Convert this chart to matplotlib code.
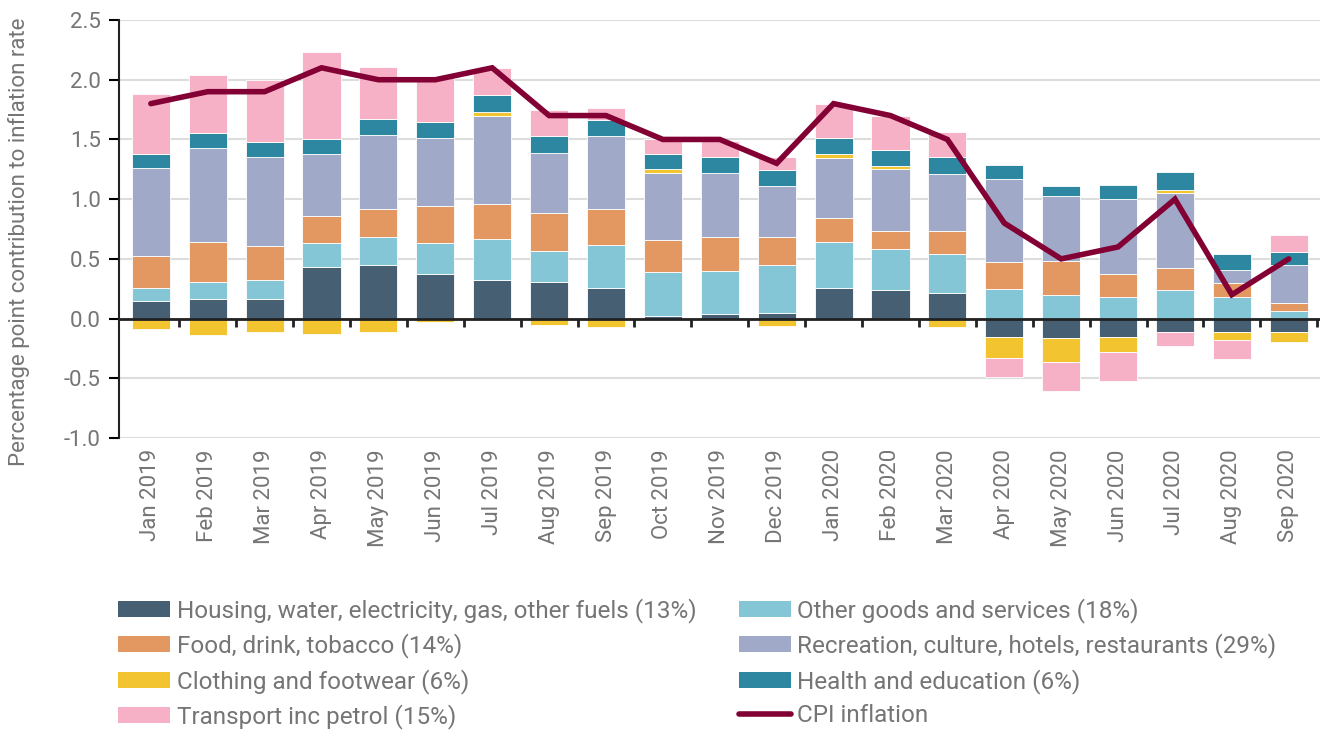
import matplotlib
matplotlib.use("Agg")
import matplotlib.pyplot as plt
import numpy as np
from matplotlib.lines import Line2D
from matplotlib.patches import Patch

plt.rcParams['font.family'] = ['Roboto', 'DejaVu Sans']

months = ["Jan 2019", "Feb 2019", "Mar 2019", "Apr 2019", "May 2019", "Jun 2019",
          "Jul 2019", "Aug 2019", "Sep 2019", "Oct 2019", "Nov 2019", "Dec 2019",
          "Jan 2020", "Feb 2020", "Mar 2020", "Apr 2020", "May 2020", "Jun 2020",
          "Jul 2020", "Aug 2020", "Sep 2020"]

# contributions (percentage points)
housing = [0.15, 0.16, 0.16, 0.43, 0.445, 0.375, 0.32, 0.31, 0.255, 0.02, 0.04, 0.05,
           0.255, 0.24, 0.215, -0.15, -0.16, -0.15, -0.11, -0.11, -0.11]
other_goods = [0.11, 0.15, 0.16, 0.20, 0.24, 0.26, 0.35, 0.26, 0.36, 0.37, 0.355, 0.40,
               0.39, 0.34, 0.33, 0.245, 0.20, 0.18, 0.24, 0.18, 0.06]
food = [0.26, 0.33, 0.29, 0.23, 0.23, 0.31, 0.29, 0.31, 0.30, 0.27, 0.29, 0.23,
        0.20, 0.15, 0.19, 0.23, 0.28, 0.19, 0.18, 0.12, 0.07]
recreation = [0.74, 0.79, 0.74, 0.52, 0.62, 0.57, 0.74, 0.51, 0.61, 0.56, 0.53, 0.43,
              0.50, 0.525, 0.475, 0.69, 0.55, 0.63, 0.635, 0.11, 0.32]
clothing = [-0.09, -0.14, -0.11, -0.13, -0.11, -0.03, 0.03, -0.05, -0.07, 0.03, 0.0, -0.06,
            0.03, 0.02, -0.07, -0.18, -0.20, -0.13, 0.02, -0.07, -0.09]
health = [0.12, 0.12, 0.13, 0.125, 0.14, 0.135, 0.14, 0.14, 0.135, 0.13, 0.135, 0.135,
          0.14, 0.14, 0.14, 0.12, 0.08, 0.12, 0.15, 0.13, 0.11]
transport = [0.50, 0.49, 0.52, 0.725, 0.43, 0.37, 0.23, 0.22, 0.10, 0.12, 0.14, 0.11,
             0.28, 0.28, 0.21, -0.16, -0.245, -0.24, -0.12, -0.16, 0.14]
cpi = [1.8, 1.9, 1.9, 2.1, 2.0, 2.0, 2.1, 1.7, 1.7, 1.5, 1.5, 1.3,
       1.8, 1.7, 1.5, 0.8, 0.5, 0.6, 1.0, 0.2, 0.5]

series = [
    (housing, "Housing, water, electricity, gas, other fuels (13%)", "#465f72"),
    (other_goods, "Other goods and services (18%)", "#85c6d6"),
    (food, "Food, drink, tobacco (14%)", "#e39862"),
    (recreation, "Recreation, culture, hotels, restaurants (29%)", "#a1a9c8"),
    (clothing, "Clothing and footwear (6%)", "#f2c530"),
    (health, "Health and education (6%)", "#2e87a0"),
    (transport, "Transport inc petrol (15%)", "#f7b1c7"),
]
line_color = "#820033"
text_grey = "#757575"

fig = plt.figure(figsize=(13.28, 7.31), dpi=100)
ax = fig.add_axes([0.0896, 0.4008, 0.9044, 0.5718])

x = np.arange(len(months))
pos_base = np.zeros(len(months))
neg_base = np.zeros(len(months))
handles = {}
for vals, label, color in series:
    v = np.array(vals)
    bottom = np.where(v >= 0, pos_base, neg_base)
    ax.bar(x, v, 0.67, bottom=bottom, color=color, edgecolor="white",
           linewidth=0.6, zorder=2)
    pos_base += np.where(v >= 0, v, 0)
    neg_base += np.where(v < 0, v, 0)
    handles[label] = Patch(facecolor=color, edgecolor="none")

ax.plot(x, cpi, color=line_color, lw=4, zorder=4, solid_capstyle="round",
        solid_joinstyle="miter")

ax.set_ylim(-1.0, 2.5)
ax.set_xlim(-0.56, 20.55)
yt = np.arange(-1.0, 2.51, 0.5)
ax.set_yticks(yt)
ax.set_yticklabels([f"{t:.1f}" for t in yt])
ax.grid(axis="y", color="#dddddd", lw=1.5, zorder=0)
ax.set_axisbelow(True)

ax.set_xticks(x)
ax.set_xticklabels(months, rotation=90)
ax.tick_params(axis="x", length=0, pad=8, labelsize=16, labelcolor=text_grey)
ax.tick_params(axis="y", length=7, width=1.5, direction="out", labelsize=16,
               labelcolor=text_grey, pad=6)

for s in ["top", "right", "bottom"]:
    ax.spines[s].set_visible(False)
ax.spines["left"].set_linewidth(1.5)
ax.spines["left"].set_color("#222222")

# zero axis line with category separators
ax.axhline(0, color="#222222", lw=2, zorder=3)
ax.vlines(x + 0.5, -0.07, 0, color="#222222", lw=2, zorder=3)

ax.set_ylabel("Percentage point contribution to inflation rate", fontsize=16,
              color=text_grey)
ax.yaxis.set_label_coords(-0.074, 0.469)

order = [series[0][1], series[2][1], series[4][1], series[6][1],
         series[1][1], series[3][1], series[5][1]]
hl = [handles[k] for k in order]
labels = order[:]
hl.append(Line2D([0], [0], color=line_color, lw=4, solid_capstyle="round"))
labels.append("CPI inflation")
leg = fig.legend(hl, labels, ncol=2, loc="upper left", bbox_to_anchor=(0.089, 0.182),
                 frameon=False, fontsize=17.5, handlelength=2.15, handleheight=0.64,
                 handletextpad=0.25, columnspacing=1.75, labelspacing=0.43,
                 borderaxespad=0, borderpad=0)
for t in leg.get_texts():
    t.set_color(text_grey)

fig.savefig("out.png", dpi=100)
